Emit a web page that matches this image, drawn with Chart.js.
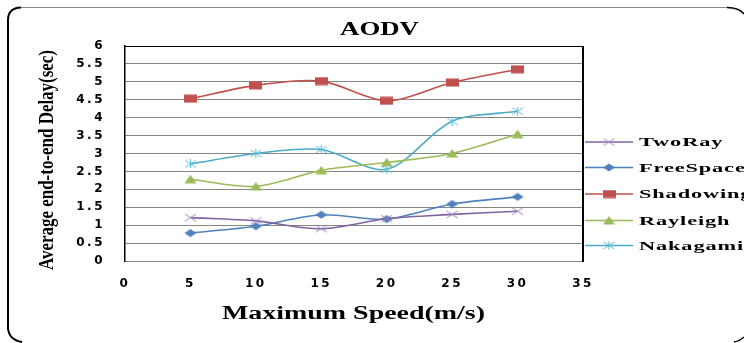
<!DOCTYPE html>
<html>
<head>
<meta charset="utf-8">
<script src="https://cdn.jsdelivr.net/npm/chart.js@4/dist/chart.umd.min.js"></script>
<style>
  html, body { margin: 0; padding: 0; background: #fff; }
  #wrap { width: 744px; height: 343px; }
</style>
</head>
<body>
<div id="wrap"><canvas id="c" width="744" height="343"></canvas></div>
<script>
// Maximum node speed (m/s)
const speeds = [5, 10, 15, 20, 25, 30];

// Average end-to-end delay (sec) per propagation model
const twoRay    = [1.21, 1.12, 0.90, 1.18, 1.30, 1.39];
const freeSpace = [0.78, 0.97, 1.29, 1.17, 1.59, 1.79];
const shadowing = [4.53, 4.90, 5.02, 4.47, 4.98, 5.35];
const rayleigh  = [2.28, 2.08, 2.53, 2.75, 3.00, 3.54];
const nakagami  = [2.71, 3.00, 3.11, 2.56, 3.90, 4.18];

const seriesNames = ['TwoRay', 'FreeSpace', 'Shadowing', 'Rayleigh', 'Nakagami'];

// Axis tick labels
const xTickLabels = ['0', '5', '10', '15', '20', '25', '30', '35'];
const yTickLabels = ['0', '0.5', '1', '1.5', '2', '2.5', '3', '3.5', '4', '4.5', '5', '5.5', '6'];

const chartTitle = 'AODV';
const xTitle = 'Maximum Speed(m/s)';
const yTitle = 'Average end-to-end Delay(sec)';

const colors = ['#8064A2', '#4F81BD', '#C0504D', '#9BBB59', '#4BACC6'];

// Marker glyphs are drawn a little wider than tall
function marker(kind, color) {
  const w = 13, h = 9;
  const cv = document.createElement('canvas');
  cv.width = w; cv.height = h;
  const g = cv.getContext('2d');
  g.fillStyle = color; g.strokeStyle = color; g.lineWidth = 1;
  if (kind === 'x' || kind === 'star') {
    g.beginPath();
    g.moveTo(1, 1); g.lineTo(w - 1, h - 1);
    g.moveTo(w - 1, 1); g.lineTo(1, h - 1);
    if (kind === 'star') { g.moveTo(w / 2, 0); g.lineTo(w / 2, h); }
    g.stroke();
  } else if (kind === 'diamond') {
    g.beginPath();
    g.moveTo(w / 2, 0.5); g.lineTo(w - 0.5, h / 2); g.lineTo(w / 2, h - 0.5); g.lineTo(0.5, h / 2);
    g.closePath(); g.fill();
  } else if (kind === 'rect') {
    g.fillRect(0, 0.5, w, h - 1);
  } else if (kind === 'tri') {
    g.beginPath();
    g.moveTo(w / 2, 0); g.lineTo(w - 0.5, h - 0.5); g.lineTo(0.5, h - 0.5);
    g.closePath(); g.fill();
  }
  return cv;
}
const markers = [
  marker('x', '#9D87C0'),
  marker('diamond', colors[1]),
  marker('rect', colors[2]),
  marker('tri', colors[3]),
  marker('star', '#5CC0DA')
];

const values = [twoRay, freeSpace, shadowing, rayleigh, nakagami];
const datasets = values.map((vals, i) => ({
  label: seriesNames[i],
  data: speeds.map((s, k) => ({ x: s, y: vals[k] })),
  borderColor: colors[i],
  backgroundColor: colors[i],
  borderWidth: 1.6,
  tension: 0.3,
  pointStyle: markers[i],
  pointRadius: 6,
  pointHoverRadius: 6
}));

// Draw text horizontally stretched so it spans a given width
function fitText(ctx, text, cx, baseY, targetW, font, rotate) {
  ctx.save();
  ctx.font = font;
  ctx.letterSpacing = '0px';
  const w = ctx.measureText(text).width;
  ctx.translate(cx, baseY);
  if (rotate) ctx.rotate(-Math.PI / 2);
  ctx.scale(targetW / w, 1);
  ctx.textAlign = 'center';
  ctx.textBaseline = 'alphabetic';
  ctx.fillStyle = '#000';
  ctx.fillText(text, 0, 0);
  ctx.restore();
}

const decor = {
  id: 'decor',
  beforeDraw(chart) {
    // wide-set tick digits
    chart.ctx.letterSpacing = '2.5px';
  },
  afterDraw(chart) {
    const ctx = chart.ctx;
    const a = chart.chartArea;
    ctx.save();
    ctx.letterSpacing = '0px';

    // plot area outline: top and right edges
    ctx.strokeStyle = '#000';
    ctx.lineWidth = 1;
    ctx.beginPath();
    ctx.moveTo(a.left, a.top + 0.5); ctx.lineTo(a.right, a.top + 0.5);
    ctx.stroke();
    ctx.lineWidth = 2;
    ctx.beginPath();
    ctx.moveTo(a.right, a.top); ctx.lineTo(a.right, a.bottom + 1);
    ctx.stroke();

    // outer rounded frame
    ctx.lineWidth = 1;
    ctx.strokeStyle = '#8a8a8a';
    ctx.beginPath();
    ctx.moveTo(20, 7.5); ctx.lineTo(728, 7.5);
    ctx.stroke();
    ctx.strokeStyle = '#000';
    ctx.lineWidth = 2;
    ctx.beginPath();
    ctx.moveTo(8, 330);
    ctx.lineTo(8, 20);
    ctx.quadraticCurveTo(8, 8, 21, 7.5);
    ctx.stroke();
    ctx.beginPath();
    ctx.moveTo(8, 328);
    ctx.quadraticCurveTo(9, 340, 22, 342);
    ctx.stroke();
    ctx.lineWidth = 1.5;
    ctx.beginPath();
    ctx.moveTo(727, 7.5);
    ctx.quadraticCurveTo(740, 8, 744, 14);
    ctx.stroke();
    ctx.beginPath();
    ctx.moveTo(734, 342);
    ctx.quadraticCurveTo(740, 341, 744, 337);
    ctx.stroke();

    // titles
    fitText(ctx, chartTitle, 379.5, 35, 79, 'bold 18px "Liberation Serif"', false);
    fitText(ctx, xTitle, 353.5, 319, 263, 'bold 18px "Liberation Serif"', false);
    fitText(ctx, yTitle, 53, 160, 220, 'bold 21px "Liberation Serif"', true);

    // legend
    const rows = [142, 167.5, 194, 220.5, 245.5];
    chart.data.datasets.forEach((ds, i) => {
      const y = rows[i];
      ctx.strokeStyle = ds.borderColor;
      ctx.lineWidth = 1.6;
      ctx.beginPath();
      ctx.moveTo(585, y); ctx.lineTo(633, y);
      ctx.stroke();
      const m = ds.pointStyle;
      ctx.drawImage(m, 609 - m.width / 2, y - m.height / 2);
      ctx.save();
      ctx.font = 'bold 13px "Liberation Serif"';
      ctx.translate(639, y);
      ctx.scale(1.72, 1);
      ctx.textAlign = 'left';
      ctx.textBaseline = 'middle';
      ctx.fillStyle = '#000';
      ctx.letterSpacing = '0.5px';
      ctx.fillText(ds.label, 0, 1);
      ctx.restore();
    });
    ctx.restore();
  }
};

const tickFont = { family: '"DejaVu Sans"', size: 12, weight: 'bold' };

new Chart(document.getElementById('c'), {
  type: 'line',
  data: { datasets },
  options: {
    responsive: false,
    animation: false,
    devicePixelRatio: 1,
    events: [],
    layout: { padding: { left: 0, top: 46, right: 161, bottom: 0 } },
    plugins: {
      legend: { display: false },
      title: { display: false },
      tooltip: { enabled: false }
    },
    scales: {
      x: {
        type: 'linear',
        min: 0, max: 35,
        ticks: {
          stepSize: 5,
          color: '#000',
          font: tickFont,
          padding: 16,
          maxRotation: 0,
          callback: (v, i) => xTickLabels[i]
        },
        grid: { display: false, drawTicks: false },
        border: { color: '#868686', width: 1 },
        afterFit(scale) { scale.height = 82; }
      },
      y: {
        min: 0, max: 6,
        ticks: {
          stepSize: 0.5,
          color: '#000',
          font: tickFont,
          padding: 20,
          callback: (v, i) => yTickLabels[i]
        },
        grid: { color: '#868686', lineWidth: 1, drawTicks: false },
        border: { color: '#000', width: 1.5 },
        afterFit(scale) { scale.width = 125; }
      }
    }
  },
  plugins: [decor]
});
</script>
</body>
</html>
